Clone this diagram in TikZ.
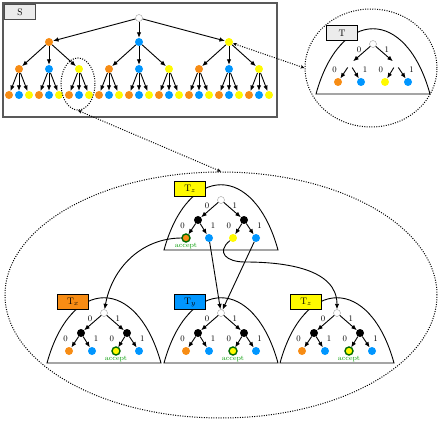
\documentclass[tikz,border=0pt]{standalone}
\usepackage{tikz}
\usetikzlibrary{arrows.meta}
\usetikzlibrary{shapes.geometric}
\definecolor{orng}{RGB}{247,140,20}
\definecolor{blu}{RGB}{0,150,255}
\definecolor{ylw}{RGB}{255,250,0}
\definecolor{okgreen}{RGB}{0,105,0}
\tikzset{arr/.style = {-{Latex[length = 5.5pt, width = 4.5pt]}, line width = 0.9pt}}
\tikzset{dotline/.style = {line width = 1pt, dash pattern = on 1pt off 1.4pt}}
\tikzset{dottip/.style = {{Stealth[length = 4pt, width = 3.5pt]}-{Stealth[length = 4pt, width = 3.5pt]}}}
\tikzset{circ/.style = {circle, inner sep = 0, minimum size = 8pt}}
\tikzset{wnode/.style = {circ, draw = gray!75, fill = white, minimum size = 7pt}}
\tikzset{ring/.style = {circ, draw = okgreen, line width = 1.4pt}}
\tikzset{acctext/.style = {text = green!60!black, font = \fontsize{7}{7}\selectfont, inner sep = 0.6pt}}
\tikzset{bit/.style = {font = \fontsize{8.5}{8.5}\selectfont, inner sep = 0, pos = 0.2}}
\tikzset{tbox/.style = {draw, line width = 0.9pt, minimum width = 31pt, minimum height = 15pt,
                        inner sep = 0, font = \fontsize{9.5}{9.5}\selectfont}}
\tikzset{arch/.style = {line width = 0.9pt}}

% name, x, y, box colour, box text, inner fill, accepting leaf
\newcommand{\minitree}[7]{%
  \draw [arch] (#2-57, #3+50) .. controls (#2-33, #3-37) and (#2+33, #3-37) .. (#2+57, #3+50) -- cycle;
  \node [tbox, fill = #4] (#1box) at (#2-31, #3-11) {#5};
  \node [wnode] (#1r) at (#2, #3) {};
  \node [circ, fill = #6] (#1a) at (#2-23, #3+20) {};
  \node [circ, fill = #6] (#1b) at (#2+23, #3+20) {};
  \node [circ, fill = orng] (#11) at (#2-35, #3+38) {};
  \node [circ, fill = blu] (#12) at (#2-12, #3+38) {};
  \node [circ, fill = ylw] (#13) at (#2+12, #3+38) {};
  \node [circ, fill = blu] (#14) at (#2+35, #3+38) {};
  \draw [arr] (#1r) -- node [bit, left = 5pt] {0} (#1a);
  \draw [arr] (#1r) -- node [bit, right = 5pt] {1} (#1b);
  \draw [arr] (#1a) -- node [bit, left = 9pt] {0} (#11);
  \draw [arr] (#1a) -- node [bit, right = 9pt] {1} (#12);
  \draw [arr] (#1b) -- node [bit, left = 9pt] {0} (#13);
  \draw [arr] (#1b) -- node [bit, right = 9pt] {1} (#14);
  \ifnum #7 > 0
    \node [ring, label = {[acctext] below:accept}] at (#1#7) {};
  \fi
}

\begin{document}
\begin{tikzpicture}[x = 1pt, y = -1pt]
  \useasboundingbox (0, 0) rectangle (442, 422);

  % the tree S
  \draw [draw = gray!70!black, line width = 1.3pt] (3, 3) rectangle (277, 117);
  \node [tbox, fill = gray!15, draw = gray!60!black] (slbl) at (20, 12) {S};
  \node [wnode] (s) at (139, 18) {};
  \foreach \i/\c in {0/orng, 1/blu, 2/ylw} {
    \node [circ, fill = \c] (s\i) at (49+90*\i, 42) {};
    \draw [arr] (s) -- (s\i);
    \foreach \j/\d in {0/orng, 1/blu, 2/ylw} {
      \node [circ, fill = \d] (s\i\j) at (19+90*\i+30*\j, 69) {};
      \draw [arr] (s\i) -- (s\i\j);
      \foreach \k/\e in {0/orng, 1/blu, 2/ylw} {
        \node [circ, fill = \e] (s\i\j\k) at (9+90*\i+30*\j+10*\k, 95) {};
        \draw [arr] (s\i\j) -- (s\i\j\k);
      }
    }
  }
  \node [ellipse, draw, dotline, minimum width = 34pt, minimum height = 52pt] (zoom) at (78, 84) {};

  % the tree T
  \node [ellipse, draw, dotline, minimum width = 132pt, minimum height = 118pt] (tview) at (371, 68) {};
  \minitree{tv}{373}{44}{gray!15}{T}{white}{0}
  \draw [dotline, dottip] (s2) -- (tview.west);

  % zoomed part
  \node [ellipse, draw, dotline, minimum width = 432pt, minimum height = 246pt] (big) at (221, 295) {};
  \draw [dotline, dottip] (zoom.south) -- (big.north);
  \minitree{top}{221}{200}{ylw}{T$_z$}{black}{1}
  \minitree{tx}{104}{313}{orng}{T$_x$}{black}{3}
  \minitree{ty}{221}{313}{blu}{T$_y$}{black}{3}
  \minitree{tz}{337}{313}{ylw}{T$_z$}{black}{3}
  \coordinate (bend) at (245, 262);
  \draw [arr] (top1) to [out = 180, in = 80] (txr);
  \draw [arr] (top2) -- (tyr);
  \draw [arr] (top4) -- (tyr);
  \draw [arr] (top3) to [out = 220, in = 180, looseness = 1.8] (bend) to [out = 0, in = 90] (tzr);
\end{tikzpicture}
\end{document}
